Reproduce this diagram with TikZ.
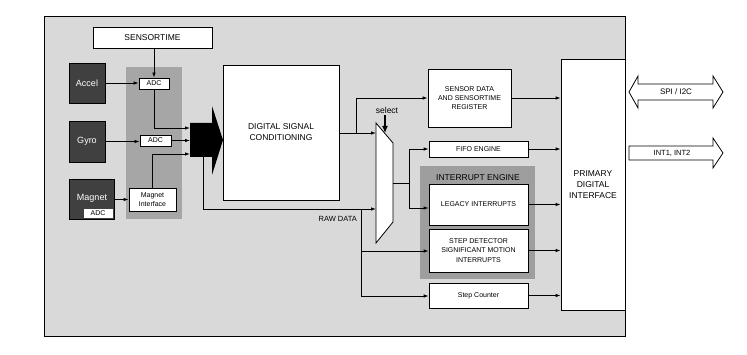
\documentclass[tikz,border=0pt]{standalone}
\usepackage{fontspec}
\setmainfont{Liberation Sans}
\usetikzlibrary{arrows.meta}
\definecolor{bggray}{HTML}{D9D9D9}
\definecolor{stripgray}{HTML}{A6A6A6}
\definecolor{enggray}{HTML}{9E9E9E}
\definecolor{darkbox}{HTML}{404040}
\tikzset{
  box/.style={draw=black, line width=0.8pt, fill=white, inner sep=0pt, align=center, font=\fontsize{7}{9}\selectfont},
  bigbox/.style={box, font=\fontsize{8.5}{11}\selectfont},
  sensor/.style={draw=black, line width=0.6pt, fill=darkbox, text=white, inner sep=0pt, font=\fontsize{9}{10}\selectfont},
  arr/.style={-{Latex[length=5pt,width=3.5pt]}, line width=0.8pt},
  ln/.style={line width=0.8pt},
  lbl/.style={inner sep=0pt, font=\fontsize{7.5}{9}\selectfont},
}
\begin{document}
\begin{tikzpicture}[x=1pt,y=-1pt]
\useasboundingbox (0,0) rectangle (747,355);
\fill[white] (0,0) rectangle (747,355);
% outer panel with shadow
\draw[line width=1.6pt, black!75] (625.6,18) -- (625.6,336.6) -- (46,336.6);
\node[draw=black, fill=bggray, line width=0.8pt, minimum width=581pt, minimum height=320pt, inner sep=0pt, anchor=north west] (outer) at (44,16) {};
% ADC strip
\node[fill=stripgray, minimum width=56pt, minimum height=152pt, inner sep=0pt, anchor=north west] (strip) at (126,67) {};
% interrupt engine panel
\node[fill=enggray, minimum width=115pt, minimum height=113pt, inner sep=0pt, anchor=north west] (engine) at (420,166) {};
\node[lbl, font=\fontsize{8.5}{10}\selectfont] (enginelbl) at (478,178) {INTERRUPT ENGINE};

% boxes
\node[bigbox, minimum width=119pt, minimum height=21pt] (sensortime) at (152.5,37.5) {SENSORTIME};
\node[sensor, minimum width=36pt, minimum height=40pt] (accel) at (87,83) {Accel};
\node[sensor, minimum width=36pt, minimum height=41pt] (gyro) at (87,141.5) {Gyro};
\node[sensor, minimum width=45pt, minimum height=40pt] (magnet) at (91.5,199) {};
\node[inner sep=0pt, text=white, font=\fontsize{9}{10}\selectfont] (magnetlbl) at (92,198) {Magnet};
\node[box, line width=0.5pt, draw=darkbox, minimum width=30pt, minimum height=10pt, font=\fontsize{7}{8}\selectfont] (madc) at (98,213) {ADC};
\node[box, minimum width=30pt, minimum height=11pt, font=\fontsize{7}{8}\selectfont] (adc1) at (154,83.5) {ADC};
\node[box, minimum width=31pt, minimum height=11pt, font=\fontsize{7}{8}\selectfont] (adc2) at (155.5,140.5) {ADC};
\node[box, minimum width=47pt, minimum height=23pt, font=\fontsize{7}{8.5}\selectfont] (magint) at (152.5,199.5) {Magnet\\Interface};

\node[bigbox, minimum width=116pt, minimum height=135pt] (dsc) at (281,132.5) {DIGITAL SIGNAL\\CONDITIONING};
\node[box, minimum width=83pt, minimum height=58pt, font=\fontsize{7}{9}\selectfont] (sdata) at (469.5,98) {SENSOR DATA\\AND SENSORTIME\\REGISTER};
\node[box, minimum width=99pt, minimum height=16pt] (fifo) at (478.5,149) {FIFO ENGINE};
\node[box, minimum width=99pt, minimum height=41pt] (legacy) at (478.5,204.5) {LEGACY INTERRUPTS};
\node[box, minimum width=99pt, minimum height=43pt, font=\fontsize{7}{9.5}\selectfont] (stepdet) at (478.5,250.5) {STEP DETECTOR\\SIGNIFICANT MOTION\\INTERRUPTS};
\node[box, minimum width=99pt, minimum height=25pt] (stepcnt) at (478.5,295.5) {Step Counter};
\node[bigbox, minimum width=64pt, minimum height=251pt, font=\fontsize{8.5}{11}\selectfont] (primary) at (593,184.5) {PRIMARY\\DIGITAL\\INTERFACE};

% black bus arrow
\fill[black] (190,123) -- (212,123) -- (212,106) -- (223,140) -- (212,175) -- (212,157) -- (190,157) -- cycle;
\coordinate (bus) at (201,140);

% mux
\draw[line width=0.8pt, fill=white] (376,123) -- (393,143) -- (393,222) -- (376,243) -- cycle;
\coordinate (muxin1) at (376,133);
\coordinate (muxin2) at (376,209);
\coordinate (muxout) at (393,183);
\node[lbl, font=\fontsize{8.5}{10}\selectfont] (select) at (387,110) {select};
\draw[-{Latex[length=7pt,width=6pt]}, line width=1.1pt] (385,115) -- (385,133);

% external arrows
\draw[line width=0.8pt, fill=white] (629,92) -- (638,76) -- (638,84) -- (713,84) -- (713,76) -- (723,92) -- (713,108) -- (713,100) -- (638,100) -- (638,108) -- cycle;
\node[lbl, font=\fontsize{8}{9}\selectfont] (spi) at (676,92) {SPI / I2C};
\draw[line width=0.8pt, fill=white] (629,146) -- (713,146) -- (713,138) -- (723,153) -- (713,168) -- (713,160) -- (629,160) -- cycle;
\node[lbl, font=\fontsize{7.5}{9}\selectfont] (int) at (672,153) {INT1, INT2};

% sensor connections
\draw[arr] (sensortime.south -| adc1.north) -- (adc1.north);
\draw[arr] (accel.east) -- (accel.east -| adc1.west);
\draw[arr] (gyro.east) -- (gyro.east -| adc2.west);
\draw[arr] (magnet.east |- magint.west) -- (magint.west);
\draw[arr] (adc1.south) |- (190,128);
\draw[arr] (adc2.east) -- (190,140.5);
\draw[arr] (magint.north) |- (190,154);

% raw data path
\draw[arr] (203,157) |- (muxin2);
\node[lbl, anchor=east] (raw) at (357,219) {RAW DATA};
\draw[ln] (361,209) -- (361,296);
\draw[arr] (361,296) -- (361,296 -| stepcnt.west);
\draw[arr] (361,251) -- (361,251 -| stepdet.west);

% DSC output
\draw[arr] (dsc.east |- muxin1) -- (muxin1);
\draw[arr] (356,133) |- (sdata.west);

% mux output
\draw[ln] (muxout) -- (409,183);
\draw[ln] (409,149) -- (409,208);
\draw[arr] (409,149) -- (fifo.west);
\draw[arr] (409,208) -- (409,208 -| legacy.west);

% outputs to primary interface
\draw[arr] (sdata.east) -- (sdata.east -| primary.west);
\draw[arr] (fifo.east) -- (fifo.east -| primary.west);
\draw[arr] (legacy.east) -- (legacy.east -| primary.west);
\draw[arr] (stepdet.east) -- (stepdet.east -| primary.west);
\draw[arr] (stepcnt.east) -- (stepcnt.east -| primary.west);
\end{tikzpicture}
\end{document}
